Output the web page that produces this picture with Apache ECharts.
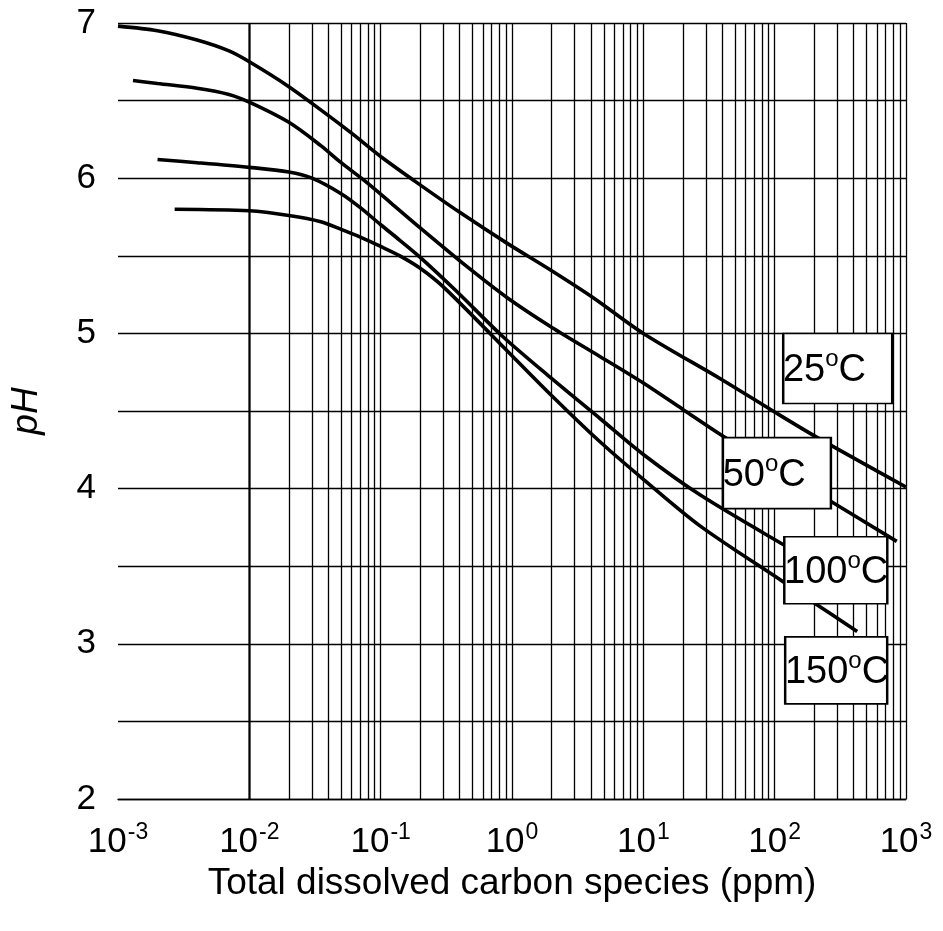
<!DOCTYPE html>
<html>
<head>
<meta charset="utf-8">
<title>pH vs total dissolved carbon</title>
<script src="https://cdn.jsdelivr.net/npm/echarts@6/dist/echarts.min.js"></script>
<style>
    html, body { margin: 0; padding: 0; background: #fff; }
    #chart { width: 943px; height: 931px; }
</style>
</head>
<body>
<div id="chart"></div>
<script>
// curve data (ppm, pH)
var ppm25 = [0.001, 0.002, 0.004, 0.007, 0.01, 0.02, 0.035, 0.06, 0.1, 0.19, 0.4, 0.92, 1.95, 4.15, 10, 40, 97, 210, 1000];
var ph25 = [6.98, 6.95, 6.89, 6.82, 6.75, 6.59, 6.44, 6.29, 6.14, 5.97, 5.78, 5.58, 5.41, 5.23, 5.0, 4.70, 4.50, 4.33, 4.01];

var ppm50 = [0.0013, 0.002, 0.004, 0.007, 0.01, 0.02, 0.035, 0.05, 0.079, 0.12, 0.2, 0.455, 0.92, 2.0, 4.7, 10, 20, 40, 100, 265, 850];
var ph50 = [6.63, 6.61, 6.58, 6.54, 6.49, 6.36, 6.21, 6.10, 5.97, 5.84, 5.68, 5.43, 5.23, 5.04, 4.85, 4.68, 4.51, 4.34, 4.13, 3.92, 3.66];

var ppm100 = [0.002, 0.004, 0.01, 0.02, 0.03, 0.05, 0.07, 0.1, 0.14, 0.2, 0.38, 0.85, 2.0, 4.7, 10, 27, 116, 400];
var ph100 = [6.12, 6.10, 6.07, 6.04, 6.00, 5.90, 5.81, 5.70, 5.60, 5.49, 5.27, 4.98, 4.71, 4.45, 4.22, 3.96, 3.64, 3.38];

var ppm150 = [0.0027, 0.01, 0.02, 0.035, 0.05, 0.07, 0.1, 0.14, 0.2, 0.3, 0.68, 2.0, 4.7, 10, 27, 116, 203, 425];
var ph150 = [5.80, 5.79, 5.76, 5.72, 5.67, 5.62, 5.56, 5.50, 5.42, 5.30, 5.00, 4.60, 4.30, 4.06, 3.76, 3.40, 3.26, 3.08];

// temperature labels (text, box centre in ppm / pH)
var labelTemps = ['25', '50', '100', '150'];
var labelPpm = [302, 104, 292, 294];
var labelPh = [4.774, 4.10, 3.474, 2.829];

var yTicks = [2, 3, 4, 5, 6, 7];

var FONT = 'Liberation Sans, Arial, sans-serif';

function zip(xs, ys) {
    var out = [];
    for (var i = 0; i < xs.length; i++) {
        out.push([xs[i], ys[i]]);
    }
    return out;
}

// log grid: decades plus 2..9 in every decade (also gives left/right border)
var gridLines = [];
for (var e = -3; e < 3; e++) {
    for (var k = 1; k <= 9; k++) {
        gridLines.push({xAxis: k * Math.pow(10, e)});
    }
}
gridLines.push({xAxis: 1000});

var boxSizes = [[109, 70], [108, 71], [103, 67], [102, 67]];

var labelData = [];
for (var i = 0; i < labelTemps.length; i++) {
    labelData.push({
        coord: [labelPpm[i], labelPh[i]],
        symbolSize: boxSizes[i],
        value: labelTemps[i]
    });
}

function curve(name, data) {
    return {
        name: name,
        type: 'line',
        data: data,
        smooth: 0.3,
        showSymbol: false,
        z: 3,
        lineStyle: {color: '#000', width: 3.6},
        itemStyle: {color: '#000'}
    };
}

var s25 = curve('25', zip(ppm25, ph25));
var s50 = curve('50', zip(ppm50, ph50));
var s100 = curve('100', zip(ppm100, ph100));
var s150 = curve('150', zip(ppm150, ph150));

// vertical log grid lines ride on the first curve
s25.markLine = {
    silent: true,
    symbol: ['none', 'none'],
    label: {show: false},
    lineStyle: {color: '#000', width: 1.3, type: 'solid'},
    data: gridLines
};

// temperature boxes ride on the last curve so they cover the lines
s150.markPoint = {
    silent: true,
    symbol: 'rect',
    itemStyle: {color: '#fff', borderColor: '#000', borderWidth: 2},
    label: {
        show: true,
        position: 'insideLeft',
        distance: 1,
        formatter: function (p) {
            return '{n|' + p.value + '}{o|o}{n|C}';
        },
        rich: {
            n: {fontFamily: FONT, fontSize: 38, color: '#000', verticalAlign: 'bottom'},
            o: {fontFamily: FONT, fontSize: 24, color: '#000', verticalAlign: 'bottom', padding: [0, 0, 18, 0]}
        }
    },
    data: labelData
};

var myChart = echarts.init(document.getElementById('chart'));

var option = {
    animation: false,
    backgroundColor: '#fff',
    grid: {left: 118, right: 37, top: 23, bottom: 132, containLabel: false, outerBoundsMode: 'none'},
    xAxis: {
        type: 'log',
        logBase: 10,
        min: 0.001,
        max: 1000,
        splitNumber: 6,
        name: 'Total dissolved carbon species (ppm)',
        nameLocation: 'middle',
        nameGap: 60,
        nameTextStyle: {fontFamily: FONT, fontSize: 37, color: '#000', verticalAlign: 'top'},
        axisLine: {onZero: false, lineStyle: {color: '#000', width: 1.4}},
        axisTick: {show: false},
        splitLine: {show: false},
        axisLabel: {
            margin: 22,
            formatter: function (v) {
                var p = Math.round(Math.log10(v));
                return '{b|10}{e|' + p + '}';
            },
            rich: {
                b: {fontFamily: FONT, fontSize: 35, color: '#000', verticalAlign: 'bottom'},
                e: {fontFamily: FONT, fontSize: 23, color: '#000', verticalAlign: 'bottom', padding: [0, 0, 16, 1]}
            }
        }
    },
    yAxis: {
        type: 'value',
        min: 2,
        max: 7,
        interval: 0.5,
        name: 'pH',
        nameLocation: 'middle',
        nameGap: 73,
        nameTextStyle: {fontFamily: FONT, fontSize: 37, fontStyle: 'italic', color: '#000'},
        axisLine: {show: false},
        axisTick: {show: false},
        splitLine: {show: true, lineStyle: {color: '#000', width: 1.3}},
        axisLabel: {
            margin: 22,
            fontFamily: FONT,
            fontSize: 35,
            color: '#000',
            formatter: function (v) {
                return yTicks.indexOf(v) >= 0 ? String(v) : '';
            }
        }
    },
    series: [s25, s50, s100, s150]
};

myChart.setOption(option);
</script>
</body>
</html>
